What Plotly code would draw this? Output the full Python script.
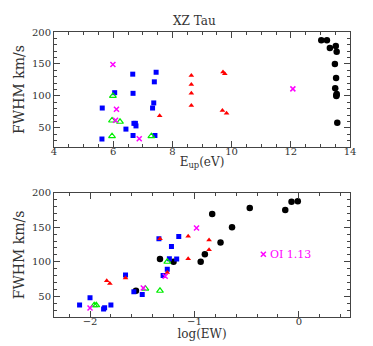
import plotly.graph_objects as go

# ---- data ----
# black circles
blk_eup = [13.03, 13.22, 13.32, 13.52, 13.55, 13.49, 13.53, 13.50, 13.55, 13.54, 13.54, 13.57]
blk_fwhm_top = [187, 187, 175, 178, 169, 150, 128, 112, 103, 101, 100, 58]
blk_logew = [-0.07, -0.01, -0.13, -0.47, -0.83, -0.64, -0.75, -0.90, -1.33, -1.20, -0.94, -1.56]
blk_fwhm_bot = [187, 187.5, 175, 178, 169, 150, 128, 111, 104, 100, 100, 58]

# blue squares
blu_eup = [6.66, 7.45, 7.39, 6.05, 6.67, 7.37, 7.33, 5.63, 6.70, 6.75, 6.77, 6.43, 6.67, 7.41, 5.62]
blu_fwhm_top = [134, 137, 122, 105, 104, 89, 81, 81, 57, 57, 53, 48, 38, 38, 32.5]
blu_logew = [-1.34, -1.15, -1.22, -1.24, -1.17, -1.26, -1.30, -1.66, -1.58, -1.87, -1.50, -2.00, -2.10, -1.80, -1.86]
blu_fwhm_bot = [133.5, 136.5, 122, 104.5, 104, 89, 80, 81, 56.5, 31.5, 52.5, 48, 37.5, 37.5, 33.5]

# red filled triangles
red_eup = [8.64, 8.64, 8.64, 8.64, 9.71, 9.77, 9.69, 9.83, 7.57]
red_fwhm_top = [132, 118, 104, 85, 137.5, 134.5, 77, 73, 69]
red_logew = [-0.86, -0.86, -1.06, -1.26, -1.06, -1.33, -1.66, -1.84, -1.81]
red_fwhm_bot = [131.5, 117.5, 104.5, 84.5, 137, 133.5, 76.5, 72.5, 68.5]

# green open triangles
grn_eup = [5.99, 5.96, 6.23, 5.96, 7.29]
grn_fwhm_top = [100, 61.5, 59.5, 37, 37]
grn_logew = [-1.26, -1.47, -1.33, -1.94, -1.96]
grn_fwhm_bot = [100, 61, 58, 37, 37]

# magenta crosses
mag_eup = [5.99, 6.11, 6.08, 6.88, 12.07]
mag_fwhm_top = [149, 79, 62, 33, 111]
mag_logew = [-0.98, -1.28, -1.49, -2.00, -0.34]
mag_fwhm_bot = [149, 79, 62, 33, 111]

title_text = "XZ Tau"
xlab_top = "E<sub>up</sub>(eV)"
xlab_bot = "log(EW)"
ylab = "FWHM km/s"
oi_label = "OI 1.13"

FONT = "DejaVu Serif"

series = [
    (blk_eup, blk_fwhm_top, blk_logew, blk_fwhm_bot, dict(symbol="circle", size=6.5, color="black")),
    (blu_eup, blu_fwhm_top, blu_logew, blu_fwhm_bot, dict(symbol="square", size=5, color="#0000ff")),
    (red_eup, red_fwhm_top, red_logew, red_fwhm_bot, dict(symbol="triangle-up", size=5, color="#ff0000")),
    (grn_eup, grn_fwhm_top, grn_logew, grn_fwhm_bot,
     dict(symbol="triangle-up-open", size=6, color="#00ee00", line=dict(width=1.2, color="#00ee00"))),
    (mag_eup, mag_fwhm_top, mag_logew, mag_fwhm_bot,
     dict(symbol="x-thin-open", size=5, color="#ff00ff", line=dict(width=1.5, color="#ff00ff"))),
]

fig = go.Figure()
for ex, ey, lx, ly, mk in series:
    fig.add_trace(go.Scatter(x=ex, y=ey, mode="markers", marker=mk, xaxis="x", yaxis="y",
                             showlegend=False, hoverinfo="skip"))
    fig.add_trace(go.Scatter(x=lx, y=ly, mode="markers", marker=mk, xaxis="x2", yaxis="y2",
                             showlegend=False, hoverinfo="skip"))

axis_common = dict(showline=True, linecolor="#444", linewidth=1, mirror="allticks",
                   ticks="inside", ticklen=6, tickcolor="#444", tickwidth=1,
                   showgrid=False, zeroline=False,
                   tickfont=dict(family=FONT, size=10, color="#333"))

fig.update_layout(
    width=373, height=346,
    margin=dict(l=46, r=31, t=24, b=37),
    paper_bgcolor="white", plot_bgcolor="white",
    font=dict(family=FONT, color="#333"),
    xaxis=dict(domain=[0, 1], anchor="y", range=[4, 14], dtick=2, ticklabelstandoff=-5,
               minor=dict(ticks="inside", dtick=0.5, ticklen=3, tickcolor="#444"),
               title=dict(text=xlab_top, font=dict(family=FONT, size=12), standoff=1),
               **axis_common),
    yaxis=dict(domain=[0.5965, 1], anchor="x", range=[20, 200], dtick=50, tick0=0,
               minor=dict(ticks="inside", dtick=10, ticklen=3, tickcolor="#444"),
               title=dict(text=ylab, font=dict(family=FONT, size=14), standoff=3),
               **axis_common),
    xaxis2=dict(domain=[0, 1], anchor="y2", range=[-2.345, 0.49], dtick=1, tick0=0,
                ticklabelstandoff=-5,
                minor=dict(ticks="inside", dtick=0.2, ticklen=3, tickcolor="#444"),
                title=dict(text=xlab_bot, font=dict(family=FONT, size=12), standoff=1),
                **axis_common),
    yaxis2=dict(domain=[0, 0.4361], anchor="x2", range=[20, 200], dtick=50, tick0=0,
                minor=dict(ticks="inside", dtick=10, ticklen=3, tickcolor="#444"),
                title=dict(text=ylab, font=dict(family=FONT, size=14), standoff=3),
                **axis_common),
    annotations=[
        dict(text=title_text, xref="paper", yref="paper", x=0.475, y=1.0, yshift=2,
             xanchor="center", yanchor="bottom", showarrow=False,
             font=dict(family=FONT, size=12, color="#333")),
        dict(text=oi_label, xref="x2", yref="y2", x=-0.30, y=111, xanchor="left", yanchor="middle",
             showarrow=False, font=dict(family=FONT, size=11, color="#ff00ff")),
    ],
)

fig.write_html("out.html")
